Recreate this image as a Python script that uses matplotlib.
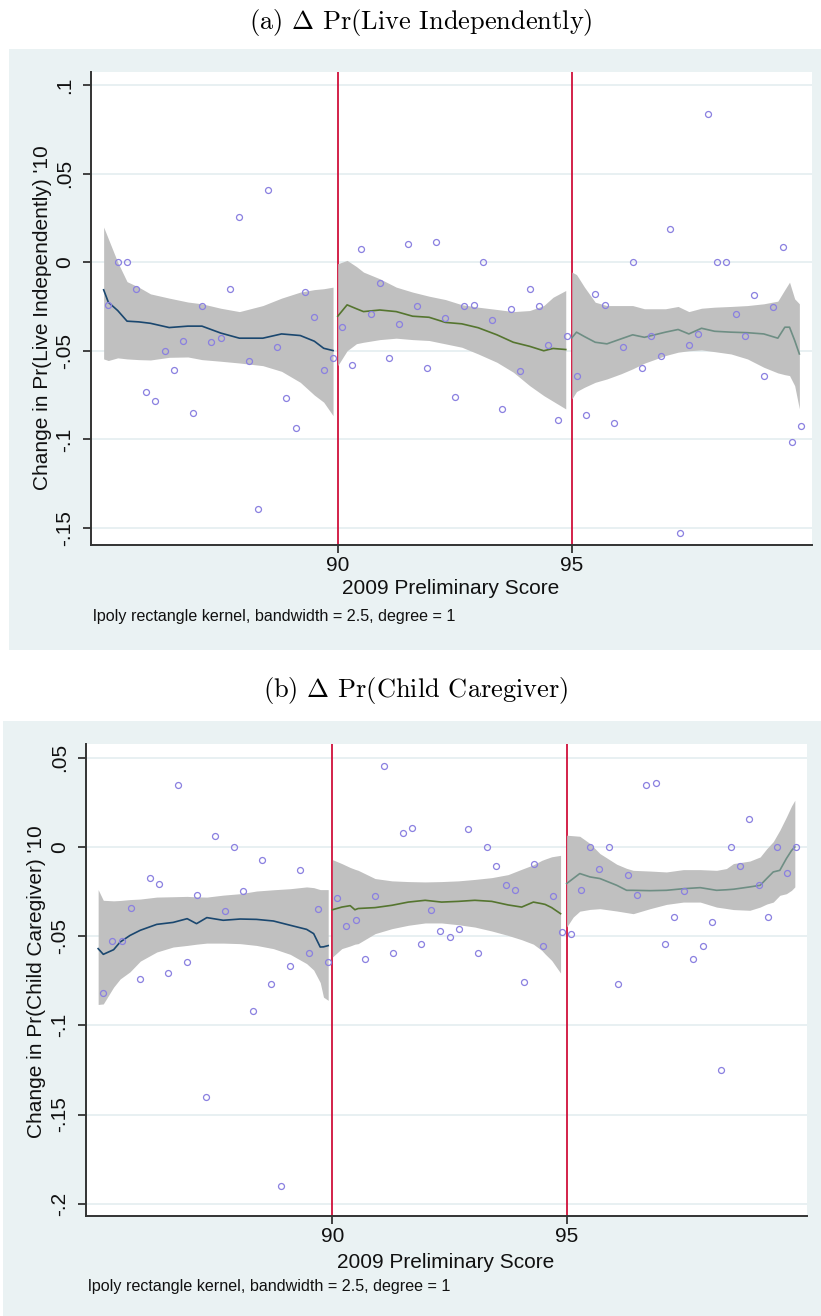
import matplotlib
matplotlib.use("Agg")
import matplotlib.pyplot as plt
from matplotlib.patches import Rectangle

plt.rcParams['font.family'] = ['Liberation Sans', 'DejaVu Sans']
plt.rcParams['mathtext.fontset'] = 'cm'

# x positions of the binned scores (same in both panels)
score = [85.1, 85.3, 85.5, 85.7, 85.9, 86.1, 86.3, 86.5, 86.7, 86.9,
         87.1, 87.3, 87.5, 87.7, 87.9, 88.1, 88.3, 88.5, 88.7, 88.9,
         89.1, 89.3, 89.5, 89.7, 89.9,
         90.1, 90.3, 90.5, 90.7, 90.9, 91.1, 91.3, 91.5, 91.7, 91.9,
         92.1, 92.3, 92.5, 92.7, 92.9, 93.1, 93.3, 93.5, 93.7, 93.9,
         94.1, 94.3, 94.5, 94.7, 94.9,
         95.1, 95.3, 95.5, 95.7, 95.9, 96.1, 96.3, 96.5, 96.7, 96.9,
         97.1, 97.3, 97.5, 97.7, 97.9, 98.1, 98.3, 98.5, 98.7, 98.9,
         99.1, 99.3, 99.5, 99.7, 99.9]

# panel (a): change in Pr(live independently)
live_y = [-0.0241, 0.0, 0.0, -0.0153, -0.0734, -0.0785, -0.0503, -0.0606, -0.0444, -0.0853,
          -0.0246, -0.0452, -0.0427, -0.0153, 0.0256, -0.0555, -0.1392, 0.0409, -0.0478, -0.0768,
          -0.0938, -0.0171, -0.0307, -0.0606, -0.0538,
          -0.0367, -0.0580, 0.0076, -0.0290, -0.0120, -0.0538, -0.0349, 0.0104, -0.0246, -0.0599,
          0.0111, -0.0315, -0.0760, -0.0246, -0.0239, 0.0, -0.0324, -0.0828, -0.0264, -0.0614,
          -0.0153, -0.0246, -0.0469, -0.0889, -0.0417,
          -0.0640, -0.0862, -0.0179, -0.0239, -0.0906, -0.0478, 0.0, -0.0599, -0.0417, -0.0529,
          0.0186, -0.1527, -0.0469, -0.0408, 0.0836, 0.0, 0.0, -0.0290, -0.0417, -0.0188,
          -0.0640, -0.0255, 0.0085, -0.1017, -0.0923]

# lpoly fits and CI
a_x1 = [85.0, 85.1, 85.3, 85.5, 85.75, 86.0, 86.4, 86.8, 87.1, 87.5, 87.9, 88.4, 88.8, 89.2, 89.5, 89.7, 89.9]
a_fit1 = [-0.0156, -0.0226, -0.0273, -0.0333, -0.0337, -0.0345, -0.0369, -0.0361, -0.0361, -0.0400,
          -0.0429, -0.0429, -0.0405, -0.0414, -0.0446, -0.0486, -0.0499]
a_hi1 = [0.0198, 0.0132, 0.0, -0.0110, -0.0141, -0.0179, -0.0203, -0.0225, -0.0235, -0.0260,
         -0.0279, -0.0245, -0.0203, -0.0169, -0.0155, -0.0150, -0.0141]
a_lo1 = [-0.0546, -0.0555, -0.0540, -0.0546, -0.0550, -0.0552, -0.0537, -0.0535, -0.0550, -0.0559,
         -0.0569, -0.0584, -0.0616, -0.0678, -0.0750, -0.0790, -0.0866]

a_x2 = [90.0, 90.2, 90.4, 90.55, 90.9, 91.25, 91.6, 91.95, 92.3, 92.65, 93.0, 93.4, 93.75, 94.1, 94.4, 94.6, 94.87]
a_fit2 = [-0.0305, -0.0241, -0.0263, -0.0279, -0.0270, -0.0279, -0.0305, -0.0311, -0.0340, -0.0348,
          -0.0370, -0.0410, -0.0452, -0.0475, -0.0500, -0.0487, -0.0493]
a_hi2 = [-0.0009, 0.0010, -0.0025, -0.0056, -0.0094, -0.0141, -0.0169, -0.0192, -0.0211, -0.0240,
         -0.0254, -0.0267, -0.0279, -0.0273, -0.0245, -0.0198, -0.0160]
a_lo2 = [-0.0584, -0.0500, -0.0460, -0.0452, -0.0437, -0.0429, -0.0437, -0.0442, -0.0461, -0.0480,
         -0.0518, -0.0565, -0.0621, -0.0697, -0.0753, -0.0785, -0.0828]

a_x3 = [95.0, 95.1, 95.27, 95.5, 95.75, 96.05, 96.3, 96.55, 97.0, 97.27, 97.5, 97.77, 98.05, 98.4,
        98.75, 99.1, 99.4, 99.55, 99.65, 99.76, 99.86]
a_fit3 = [-0.0427, -0.0395, -0.0420, -0.0452, -0.0461, -0.0433, -0.0410, -0.0424, -0.0395, -0.0380,
          -0.0405, -0.0373, -0.0390, -0.0395, -0.0398, -0.0405, -0.0429, -0.0367, -0.0367, -0.0442, -0.0518]
a_hi3 = [-0.0056, -0.0070, -0.0141, -0.0226, -0.0245, -0.0245, -0.0245, -0.0263, -0.0263, -0.0250,
         -0.0279, -0.0260, -0.0254, -0.0250, -0.0245, -0.0235, -0.0220, -0.0155, -0.0113, -0.0207, -0.0235]
a_lo3 = [-0.0772, -0.0730, -0.0706, -0.0678, -0.0659, -0.0630, -0.0602, -0.0570, -0.0527, -0.0508,
         -0.0500, -0.0495, -0.0505, -0.0518, -0.0546, -0.0593, -0.0625, -0.0635, -0.0640, -0.0697, -0.0828]

# panel (b): change in Pr(child caregiver)
care_y = [-0.0817, -0.0529, -0.0529, -0.0342, -0.0738, -0.0174, -0.0208, -0.0707, 0.0350, -0.0647,
          -0.0267, -0.1401, 0.0064, -0.0359, 0.0, -0.0249, -0.0918, -0.0073, -0.0767, -0.1899,
          -0.0666, -0.0131, -0.0597, -0.0350, -0.0647,
          -0.0284, -0.0443, -0.0410, -0.0630, -0.0275, 0.0453, -0.0597, 0.0081, 0.0107, -0.0546,
          -0.0351, -0.0469, -0.0503, -0.0460, 0.0098, -0.0597, 0.0, -0.0107, -0.0215, -0.0241,
          -0.0758, -0.0097, -0.0556, -0.0275, -0.0479,
          -0.0486, -0.0241, 0.0, -0.0123, 0.0, -0.0767, -0.0157, -0.0267, 0.0350, 0.0359,
          -0.0546, -0.0395, -0.0249, -0.0630, -0.0556, -0.0419, -0.1249, 0.0, -0.0107, 0.0155,
          -0.0215, -0.0395, 0.0, -0.0148, 0.0]

b_x1 = [85.0, 85.11, 85.33, 85.47, 85.68, 85.9, 86.25, 86.6, 86.9, 87.1, 87.32, 87.67, 88.03, 88.38,
        88.74, 89.1, 89.45, 89.6, 89.74, 89.81, 89.91]
b_fit1 = [-0.0570, -0.0602, -0.0576, -0.0533, -0.0496, -0.0467, -0.0434, -0.0423, -0.0402, -0.0430,
          -0.0396, -0.0411, -0.0404, -0.0406, -0.0415, -0.0439, -0.0462, -0.0486, -0.0561, -0.0560, -0.0553]
b_hi1 = [-0.0239, -0.0299, -0.0302, -0.0300, -0.0295, -0.0292, -0.0281, -0.0279, -0.0277, -0.0280,
         -0.0281, -0.0270, -0.0262, -0.0247, -0.0240, -0.0234, -0.0224, -0.0228, -0.0239, -0.0239, -0.0239]
b_lo1 = [-0.0883, -0.0880, -0.0786, -0.0740, -0.0700, -0.0640, -0.0589, -0.0561, -0.0552, -0.0545,
         -0.0539, -0.0539, -0.0542, -0.0552, -0.0570, -0.0602, -0.0654, -0.0690, -0.0760, -0.0842, -0.0860]

b_x2 = [90.0, 90.2, 90.38, 90.48, 90.55, 90.91, 91.27, 91.62, 91.98, 92.33, 92.69, 93.04, 93.4, 93.75,
        94.04, 94.29, 94.47, 94.54, 94.68, 94.87]
b_fit2 = [-0.0352, -0.0337, -0.0329, -0.0352, -0.0345, -0.0340, -0.0327, -0.0309, -0.0299, -0.0309,
          -0.0305, -0.0299, -0.0305, -0.0325, -0.0337, -0.0309, -0.0318, -0.0322, -0.0340, -0.0374]
b_hi2 = [-0.0071, -0.0093, -0.0115, -0.0125, -0.0131, -0.0177, -0.0190, -0.0194, -0.0196, -0.0194,
         -0.0190, -0.0182, -0.0172, -0.0155, -0.0125, -0.0100, -0.0075, -0.0068, -0.0055, -0.0047]
b_lo2 = [-0.0617, -0.0570, -0.0555, -0.0545, -0.0542, -0.0486, -0.0458, -0.0439, -0.0426, -0.0426,
         -0.0436, -0.0449, -0.0471, -0.0496, -0.0520, -0.0545, -0.0580, -0.0600, -0.0636, -0.0707]

b_x3 = [95.0, 95.14, 95.28, 95.5, 95.71, 96.07, 96.28, 96.42, 96.78, 97.13, 97.49, 97.85, 98.2, 98.41,
        98.56, 98.91, 99.13, 99.27, 99.41, 99.55, 99.69, 99.8, 99.87]
b_fit3 = [-0.0205, -0.0177, -0.0149, -0.0168, -0.0177, -0.0215, -0.0243, -0.0243, -0.0245, -0.0243,
          -0.0234, -0.0228, -0.0243, -0.0240, -0.0237, -0.0224, -0.0215, -0.0177, -0.0140, -0.0131,
          -0.0065, -0.0020, 0.0]
b_hi3 = [0.0066, 0.0063, 0.0060, 0.0019, -0.0037, -0.0097, -0.0120, -0.0131, -0.0135, -0.0140,
         -0.0127, -0.0127, -0.0131, -0.0121, -0.0093, -0.0079, -0.0056, -0.0010, 0.0030, 0.0094,
         0.0168, 0.0230, 0.0262]
b_lo3 = [-0.0449, -0.0393, -0.0360, -0.0350, -0.0346, -0.0359, -0.0368, -0.0374, -0.0346, -0.0322,
         -0.0309, -0.0309, -0.0337, -0.0345, -0.0351, -0.0355, -0.0337, -0.0320, -0.0309, -0.0271,
         -0.0262, -0.0243, -0.0224]

a_ticks = [-0.15, -0.1, -0.05, 0, 0.05, 0.1]
a_ticklabels = ['-.15', '-.1', '-.05', '0', '.05', '.1']
b_ticks = [-0.2, -0.15, -0.1, -0.05, 0, 0.05]
b_ticklabels = ['-.2', '-.15', '-.1', '-.05', '0', '.05']
cutoffs = [90, 95]
note = 'lpoly rectangle kernel, bandwidth = 2.5, degree = 1'

W, H = 821, 1316
BG = '#eaf2f3'
line_colors = ['#1a476f', '#55752f', '#6e8e84']

fig = plt.figure(figsize=(W / 100, H / 100), dpi=100)


def fx(px):
    return px / W


def fy(py):
    return 1 - py / H


def panel(bg, ax_box, ys, segs, ticks, ticklabels, ylim, ylabel, ylab_pos,
          xlab_pos, note_pos, title, title_pos):
    fig.add_artist(Rectangle((fx(bg[0]), fy(bg[3])), fx(bg[2] - bg[0]), (bg[3] - bg[1]) / H,
                             transform=fig.transFigure, facecolor=BG, edgecolor='none', zorder=-5))
    l, t, r, b = ax_box
    ax = fig.add_axes([fx(l), fy(b), fx(r - l), (b - t) / H])
    ax.set_facecolor('white')
    ax.set_xlim(84.73, 100.13)
    ax.set_ylim(*ylim)
    for ypos in ticks:
        ax.axhline(ypos, color='#e6eff1', lw=1.3, zorder=0)
    for c in cutoffs:
        ax.axvline(c, color='#d0103a', lw=1.3, zorder=1)
    for (sx, sfit, slo, shi), col in zip(segs, line_colors):
        ax.fill_between(sx, slo, shi, color='#c0c0c0', lw=0, zorder=2)
        ax.plot(sx, sfit, color=col, lw=1.2, zorder=3)
    ax.plot(score, ys, 'o', ms=4.3, mfc='none', mec='#8a80e0', mew=0.9, zorder=4)
    for s in ['top', 'right']:
        ax.spines[s].set_visible(False)
    for s in ['left', 'bottom']:
        ax.spines[s].set_color('#333333')
        ax.spines[s].set_linewidth(1.4)
    ax.set_xticks(cutoffs)
    ax.set_xticklabels([str(c) for c in cutoffs])
    ax.set_yticks(ticks)
    ax.set_yticklabels(ticklabels, rotation=90, va='center')
    ax.tick_params(axis='both', length=6, width=1.3, color='#333333', labelsize=15, labelcolor='#111111')
    ax.tick_params(axis='x', pad=2)
    ax.tick_params(axis='y', pad=6)
    fig.text(fx(ylab_pos[0]), fy(ylab_pos[1]), ylabel, rotation=90, ha='center', va='center',
             fontsize=15, color='#111111')
    fig.text(fx(xlab_pos[0]), fy(xlab_pos[1]), '2009 Preliminary Score', ha='center', va='center',
             fontsize=15, color='#111111')
    fig.text(fx(note_pos[0]), fy(note_pos[1]), note, ha='left', va='center', fontsize=11.6,
             color='#111111')
    fig.text(fx(title_pos[0]), fy(title_pos[1]), title, ha='center', va='center',
             fontsize=19, family='cmr10')
    return ax


panel((9, 49, 821, 650), (91, 72, 812, 545), live_y,
      [(a_x1, a_fit1, a_lo1, a_hi1), (a_x2, a_fit2, a_lo2, a_hi2), (a_x3, a_fit3, a_lo3, a_hi3)],
      a_ticks, a_ticklabels, (-0.1596, 0.1073), "Change in Pr(Live Independently) '10", (42, 318),
      (451, 589), (93, 616), r'(a) $\Delta$ Pr(Live Independently)', (421, 23))

panel((3, 721, 821, 1316), (85.5, 743.7, 807, 1216), care_y,
      [(b_x1, b_fit1, b_lo1, b_hi1), (b_x2, b_fit2, b_lo2, b_hi2), (b_x3, b_fit3, b_lo3, b_hi3)],
      b_ticks, b_ticklabels, (-0.2069, 0.0579), "Change in Pr(Child Caregiver) '10", (36, 982),
      (446, 1262), (88, 1287), r'(b) $\Delta$ Pr(Child Caregiver)', (416, 691))

fig.savefig('out.png', dpi=100, facecolor='white')
